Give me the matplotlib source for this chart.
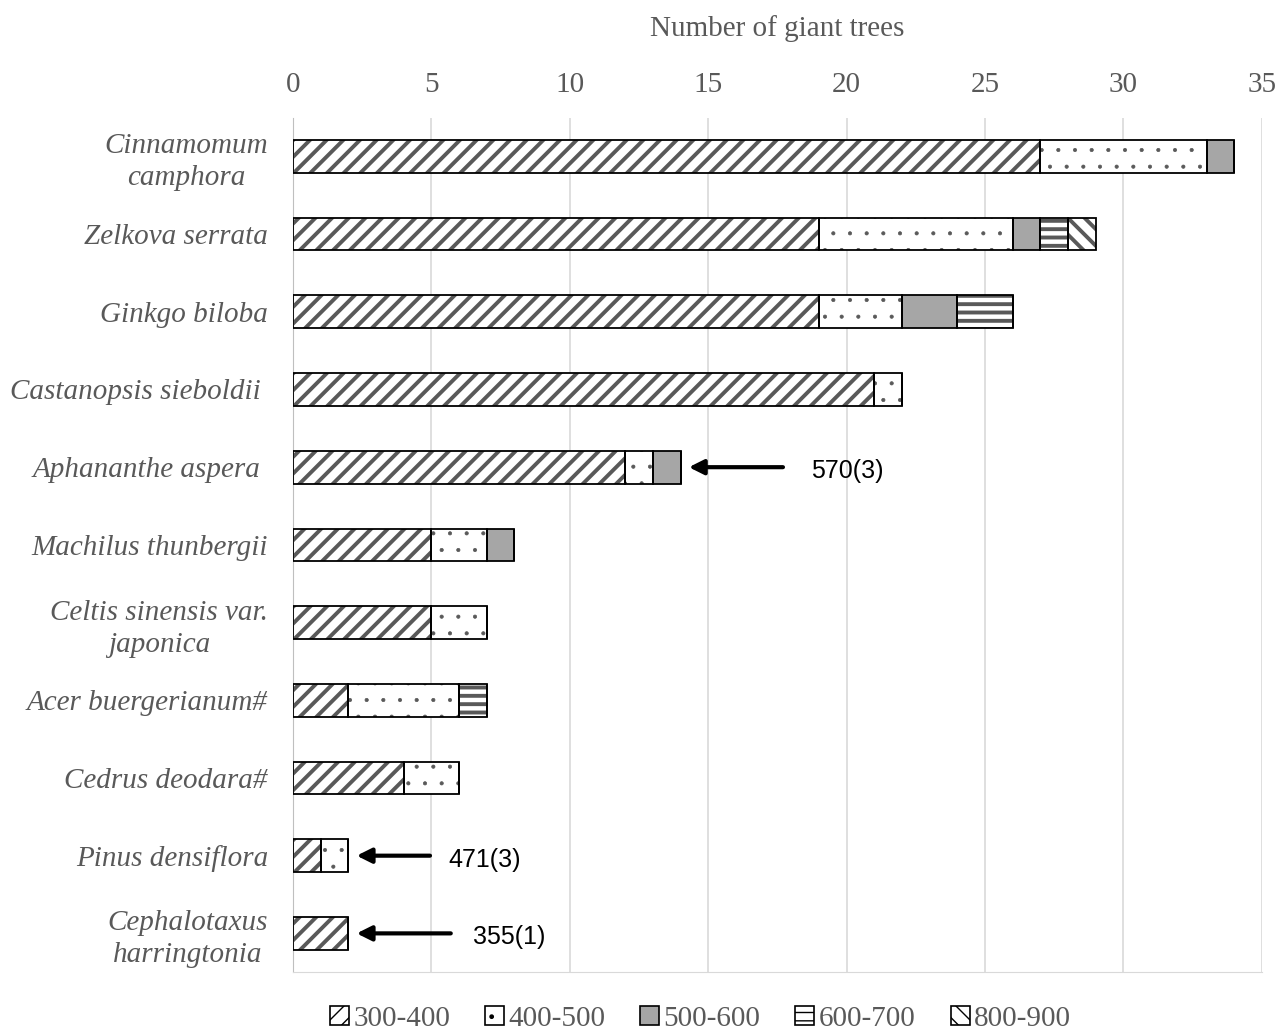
import numpy as np
import matplotlib as mpl
import matplotlib.pyplot as plt
from matplotlib.patches import Patch

species = ['Cinnamomum\ncamphora', 'Zelkova serrata', 'Ginkgo biloba',
           'Castanopsis sieboldii ', 'Aphananthe aspera ', 'Machilus thunbergii',
           'Celtis sinensis var.\njaponica', 'Acer buergerianum#', 'Cedrus deodara#',
           'Pinus densiflora', 'Cephalotaxus\nharringtonia']
classes = ['300-400', '400-500', '500-600', '600-700', '800-900']
c300 = [27, 19, 19, 21, 12, 5, 5, 2, 4, 1, 2]
c400 = [6, 7, 3, 1, 1, 2, 2, 4, 2, 1, 0]
c500 = [1, 1, 2, 0, 1, 1, 0, 0, 0, 0, 0]
c600 = [0, 1, 2, 0, 0, 0, 0, 1, 0, 0, 0]
c800 = [0, 1, 0, 0, 0, 0, 0, 0, 0, 0, 0]
notes = {'Aphananthe aspera ': '570(3)', 'Pinus densiflora': '471(3)',
         'Cephalotaxus\nharringtonia': '355(1)'}

series = [c300, c400, c500, c600, c800]
hatches = ['//', '.', '', '--', '\\\\']
faces = ['white', 'white', '#a6a6a6', 'white', 'white']
hlw = [2.8, 0.5, 1.0, 2.8, 2.8]

grey = '#595959'
plt.rcParams['font.family'] = ['Liberation Serif', 'DejaVu Serif']
plt.rcParams['hatch.color'] = grey

fig = plt.figure(figsize=(12.85, 10.31), dpi=100)
ax = fig.add_axes([0.228, 0.057, 0.754, 0.829])

y = np.arange(len(species))
left = np.zeros(len(species))
for vals, h, fc, lw in zip(series, hatches, faces, hlw):
    vals = np.array(vals, dtype=float)
    with mpl.rc_context({'hatch.linewidth': lw}):
        ax.barh(y, vals, left=left, height=0.42, color=fc, hatch=h,
                edgecolor=grey, linewidth=0, zorder=2)
    ax.barh(y, vals, left=left, height=0.42, fill=False,
            edgecolor='black', linewidth=1.3, zorder=3)
    left += vals

# arrows pointing at bars with the oldest tree age
arrow_cfg = {'Aphananthe aspera ': (17.7, 18.7), 'Pinus densiflora': (4.95, 5.6),
             'Cephalotaxus\nharringtonia': (5.7, 6.5)}
for name, txt in notes.items():
    i = species.index(name)
    tail, tx = arrow_cfg[name]
    ax.annotate('', xy=(left[i] + 0.3, i), xytext=(tail, i),
                arrowprops=dict(arrowstyle='-|>', color='black', lw=3,
                                mutation_scale=22, shrinkA=0, shrinkB=0))
    ax.text(tx, i + 0.05, txt, va='center', ha='left', fontsize=18,
            family=['Liberation Sans', 'DejaVu Sans'], color='black')

ax.set_xlim(0, 35)
ax.set_ylim(len(species) - 0.5, -0.5)
ax.set_xticks(np.arange(0, 36, 5))
ax.xaxis.tick_top()
ax.xaxis.set_label_position('top')
ax.set_xlabel('Number of giant trees', fontsize=21, color=grey, labelpad=26)
ax.tick_params(axis='x', length=0, labelsize=21, labelcolor=grey, pad=14)
ax.set_yticks(y)
ax.set_yticklabels(species, fontsize=21, style='italic', color=grey,
                   multialignment='center', linespacing=1.3)
ax.tick_params(axis='y', length=0, pad=18)
ax.grid(axis='x', color='#d9d9d9', lw=1.2, zorder=0)
ax.set_axisbelow(True)
for s in ['top', 'right']:
    ax.spines[s].set_visible(False)
ax.spines['left'].set_color('#bfbfbf')
ax.spines['bottom'].set_color('#d9d9d9')

handles = []
for h, fc, lw in zip(hatches, faces, hlw):
    with mpl.rc_context({'hatch.linewidth': lw * 0.6}):
        handles.append(Patch(facecolor=fc, hatch=h, edgecolor='black', lw=1.2))
fig.legend(handles, classes, loc='lower center', ncol=5, frameon=False,
           fontsize=21, bbox_to_anchor=(0.545, -0.026), handlelength=0.65,
           handleheight=0.65, handletextpad=0.15, columnspacing=1.2,
           labelcolor=grey)

fig.savefig('out.png', dpi=100)
